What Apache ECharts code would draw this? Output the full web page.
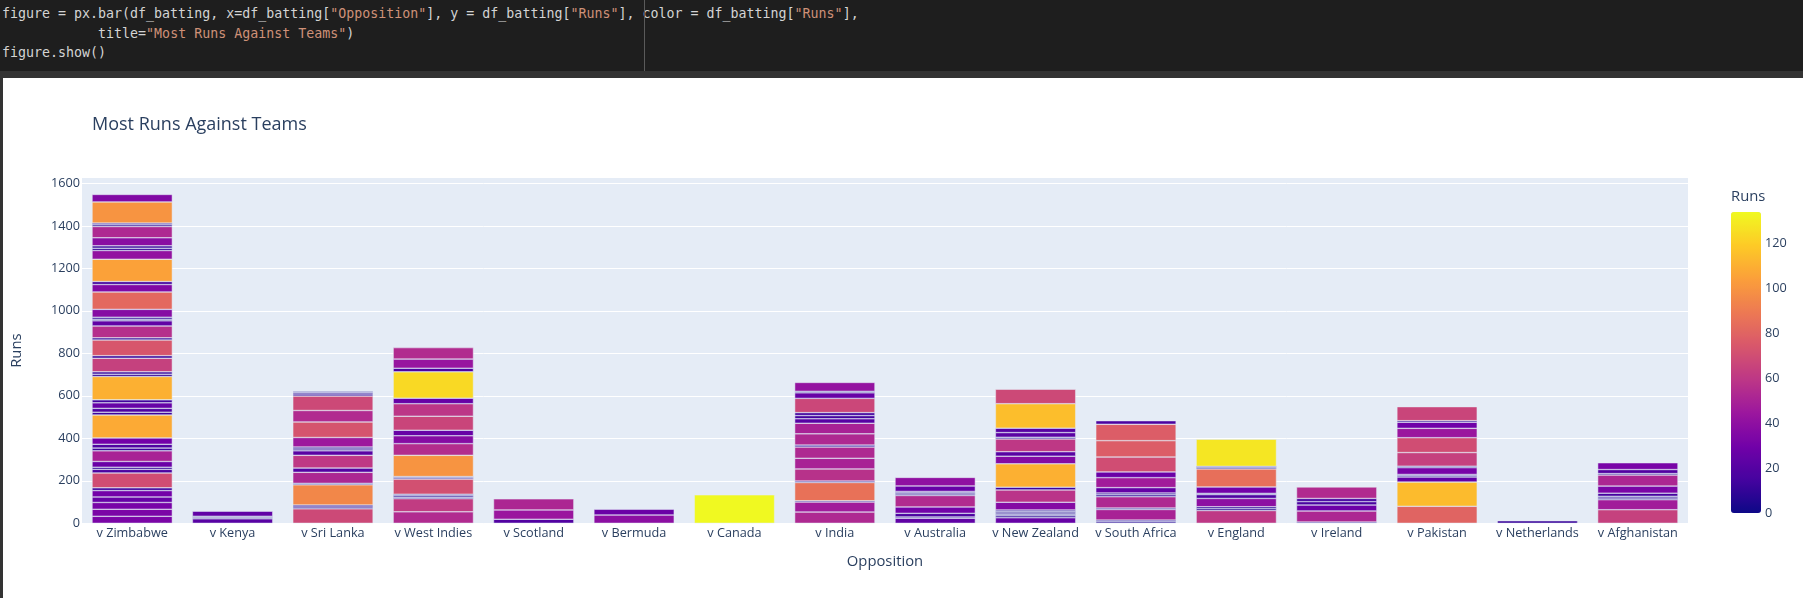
<!DOCTYPE html>
<html>
<head>
<meta charset="utf-8">
<script src="https://cdn.jsdelivr.net/npm/echarts@6/dist/echarts.min.js"></script>
<style>
  html, body { margin: 0; padding: 0; background: #ffffff; width: 1803px; height: 598px; overflow: hidden; }
  #code { position: absolute; left: 0; top: 0; width: 1803px; height: 71px; background: #1e1e1e; }
  #strip { position: absolute; left: 0; top: 71px; width: 1803px; height: 7px; background: #333333; }
  #ruler { position: absolute; left: 644px; top: 0; width: 1px; height: 71px; background: #5a5a5a; }
  #lborder { position: absolute; left: 0; top: 78px; width: 3px; height: 520px; background: #333333; }
  .ln { position: absolute; left: 2px; font-family: "DejaVu Sans Mono", monospace; font-size: 13.3px; color: #d4d4d4; white-space: pre; }
  .s { color: #ce9178; }
  #chart { position: absolute; left: 0; top: 0; width: 1803px; height: 598px; }
</style>
</head>
<body>
<div id="code">
  <div class="ln" style="top:6px">figure = px.bar(df_batting, x=df_batting[<span class="s">"Opposition"</span>], y = df_batting[<span class="s">"Runs"</span>], color = df_batting[<span class="s">"Runs"</span>],</div>
  <div class="ln" style="top:26px">            title=<span class="s">"Most Runs Against Teams"</span>)</div>
  <div class="ln" style="top:45px">figure.show()</div>
  <div id="ruler"></div>
</div>
<div id="strip"></div>
<div id="lborder"></div>
<div id="chart"></div>
<script>
// ---- data (each array: innings runs, stacked bottom -> top) ----
const categories = ['v Zimbabwe', 'v Kenya', 'v Sri Lanka', 'v West Indies', 'v Scotland', 'v Bermuda',
  'v Canada', 'v India', 'v Australia', 'v New Zealand', 'v South Africa', 'v England', 'v Ireland',
  'v Pakistan', 'v Netherlands', 'v Afghanistan'];

const runsZimbabwe = [33, 33, 32, 26, 30, 13, 70, 17, 10, 27, 50, 13, 18, 30, 108, 13, 18, 26, 14, 110, 11, 11,
  64, 12, 74, 10, 56, 24, 8, 9, 37, 82, 35, 14, 105, 41, 11, 11, 38, 53, 8, 8, 100, 35];
const runsKenya = [21, 6, 6, 24];
const runsSriLanka = [68, 9, 9, 95, 7, 52, 20, 60, 21, 9, 9, 45, 73, 54, 68, 10, 8, 5];
const runsWestIndies = [54, 62, 7, 7, 7, 71, 6, 6, 100, 55, 37, 26, 66, 59, 26, 124, 17, 43, 54];
const runsScotland = [19, 44, 52];
const runsBermuda = [39, 27];
const runsCanada = [134];
const runsIndia = [53, 47, 6, 86, 7, 57, 50, 53, 9, 53, 50, 21, 15, 14, 67, 26, 7, 42];
const runsAustralia = [24, 6, 17, 30, 54, 7, 6, 6, 26, 40];
const runsNewZealand = [26, 9, 7, 7, 7, 7, 36, 58, 13, 110, 36, 21, 60, 8, 22, 21, 115, 68];
const runsSouthAfrica = [7, 8, 50, 7, 53, 9, 9, 25, 47, 27, 70, 77, 77, 17];
const runsEngland = [60, 9, 9, 39, 18, 6, 30, 85, 6, 6, 128];
const runsIreland = [6, 52, 28, 16, 15, 54];
const runsPakistan = [80, 114, 24, 6, 6, 32, 7, 64, 70, 44, 29, 7, 66];
const runsNetherlands = [12];
const runsAfghanistan = [64, 47, 8, 8, 15, 33, 52, 7, 19, 32];

const colorTicks = [0, 20, 40, 60, 80, 100, 120];
const plasma = ['#0d0887', '#46039f', '#7201a8', '#9c179e', '#bd3786', '#d8576b', '#ed7953', '#fb9f3a', '#fdca26', '#f0f921'];

// ---- build ----
const teamRuns = [runsZimbabwe, runsKenya, runsSriLanka, runsWestIndies, runsScotland, runsBermuda, runsCanada,
  runsIndia, runsAustralia, runsNewZealand, runsSouthAfrica, runsEngland, runsIreland, runsPakistan,
  runsNetherlands, runsAfghanistan];
const allRuns = teamRuns.flat();
const runMin = 0;
const runMax = Math.max(...allRuns);
const depth = Math.max(...teamRuns.map(a => a.length));
const series = [];
for (let i = 0; i < depth; i++) {
  series.push({
    type: 'bar',
    stack: 'runs',
    barWidth: '80%',
    xAxisIndex: 0, yAxisIndex: 0,
    itemStyle: { borderColor: '#E5ECF6', borderWidth: 0.5 },
    data: teamRuns.map(a => (i < a.length ? a[i] : '-')),
    animation: false
  });
}

const font = '"Open Sans", "DejaVu Sans", Arial, sans-serif';
const txt = '#2a3f5f';
const chart = echarts.init(document.getElementById('chart'), null, { renderer: 'canvas' });
chart.setOption({
  animation: false,
  backgroundColor: 'transparent',
  textStyle: { fontFamily: font, color: txt },
  title: {
    text: 'Most Runs Against Teams', left: 87, top: 111,
    textStyle: { fontFamily: font, fontSize: 18, fontWeight: 'normal', color: txt }
  },
  graphic: [{
    type: 'text', left: 1731, top: 189,
    style: { text: 'Runs', fontFamily: font, fontSize: 14.8, fill: txt }
  }],
  grid: [
    { left: 82, top: 178, width: 1606, height: 345.3, backgroundColor: '#E5ECF6', show: true, borderWidth: 0 },
    { left: 1731, top: 212, width: 30, height: 301, show: false }
  ],
  xAxis: [
    {
      type: 'category', data: categories, gridIndex: 0,
      axisLine: { show: false }, axisTick: { show: false },
      axisLabel: { color: txt, fontSize: 12.7, fontFamily: font, margin: 4, interval: 0 },
      name: 'Opposition', nameLocation: 'middle', nameGap: 31,
      nameTextStyle: { color: txt, fontSize: 14.8, fontFamily: font }
    },
    { type: 'value', gridIndex: 1, show: false }
  ],
  yAxis: [
    {
      type: 'value', gridIndex: 0, min: 0, max: v => v.max * 1.05, interval: 200,
      axisLine: { show: false }, axisTick: { show: false },
      axisLabel: { color: txt, fontSize: 12.7, fontFamily: font, margin: 2, showMaxLabel: false,
        formatter: v => String(v) },
      splitLine: { show: true, showMaxLine: false, lineStyle: { color: '#ffffff', width: 1 } },
      name: 'Runs', nameLocation: 'middle', nameGap: 58, nameRotate: 90,
      nameTextStyle: { color: txt, fontSize: 14.8, fontFamily: font }
    },
    {
      type: 'value', gridIndex: 1, min: runMin, max: runMax, interval: 20, position: 'right',
      axisLine: { show: false }, axisTick: { show: false }, splitLine: { show: false },
      axisLabel: { color: txt, fontSize: 12.7, fontFamily: font, margin: 4, showMaxLabel: false,
        formatter: v => (colorTicks.includes(v) ? String(v) : '') }
    }
  ],
  visualMap: {
    type: 'continuous', min: runMin, max: runMax, dimension: 1,
    seriesIndex: series.map((s, i) => i),
    inRange: { color: plasma },
    orient: 'vertical', left: 1731, top: 212, itemWidth: 30, itemHeight: 301,
    padding: 0, calculable: false, text: null, hoverLink: false
  },
  series: series
});
</script>
</body>
</html>
